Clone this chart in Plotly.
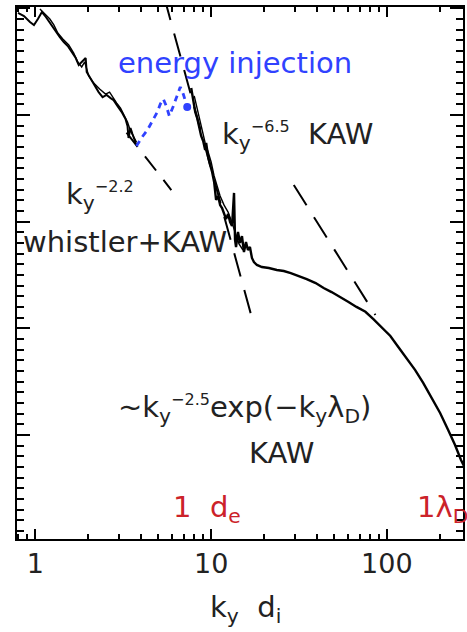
import plotly.graph_objects as go

# ---- data (k_y d_i , spectral energy, arbitrary units) ----
whistler_k = [0.796, 0.861, 0.931, 0.981, 1.033, 1.089, 1.147, 1.208, 1.290, 1.377, 1.450, 1.528,
              1.610, 1.696, 1.764, 1.858, 1.932, 1.958, 2.063, 2.174, 2.290, 2.412, 2.542, 2.679,
              2.785, 2.935, 3.092, 3.257, 3.343, 3.387, 3.476, 3.568, 3.663, 3.759]
whistler_E = [9.04, 8.47, 7.44, 6.98, 7.94, 9.23, 8.29, 7.28, 6.26, 5.38, 4.83, 4.43,
              3.89, 3.42, 2.94, 3.21, 3.42, 2.53, 2.18, 1.87, 1.64, 1.47, 1.54, 1.44,
              1.38, 1.21, 1.07, 0.917, 0.789, 0.609, 0.755, 0.664, 0.583, 0.523]

whistler2_k = [1.061, 1.132, 1.208, 1.273, 1.341, 1.432, 1.548, 1.652, 1.741, 1.834, 1.908, 2.010,
               2.146, 2.320, 2.508, 2.643, 2.749, 2.896, 3.051, 3.215, 3.343, 3.476, 3.615, 3.759]
whistler2_E = [9.85, 8.84, 7.94, 6.98, 5.87, 5.16, 4.53, 3.81, 3.14, 2.82, 3.14, 2.32,
               1.99, 1.75, 1.57, 1.64, 1.47, 1.30, 1.16, 0.979, 0.860, 0.708, 0.622, 0.558]

inject_k = [3.759, 4.012, 4.340, 4.633, 4.945, 5.141, 5.348, 5.562, 5.782, 6.092, 6.418, 6.674,
            6.941, 7.311, 7.603]
inject_E = [0.512, 0.609, 0.723, 0.879, 1.07, 1.27, 1.41, 1.21, 0.979, 1.21, 1.54, 1.83,
            1.57, 1.19, 1.38]
inject_peak_k = [7.31]
inject_peak_E = [1.19]

kaw_k = [7.703, 7.907, 8.119, 8.330, 8.551, 8.777, 9.010, 9.248, 9.370, 9.616, 9.870, 10.13,
         10.40, 10.54, 10.67, 10.96, 11.25, 11.54, 11.85, 12.16, 12.49, 12.82, 13.15, 13.33,
         13.50, 13.68, 13.86, 14.22, 14.60, 14.98, 15.38, 15.79, 16.20, 16.63, 17.07, 17.52,
         18.22, 19.45, 21.31, 23.65, 25.92, 28.40, 31.52, 34.99, 39.35, 43.68, 48.48, 54.52,
         60.52, 67.18, 75.54, 83.85, 93.07, 104.7, 116.2, 129.0, 145.0, 161.0, 178.7, 201.0,
         223.0, 244.4, 264.3, 282.1]
kaw_E = [1.79, 1.38, 1.07, 0.937, 0.755, 0.636, 0.571, 0.470, 0.547, 0.404, 0.340, 0.292,
         0.236, 0.190, 0.160, 0.174, 0.143, 0.134, 0.118, 0.106, 0.118, 0.0994, 0.0911, 0.129,
         0.186, 0.0674, 0.0579, 0.0801, 0.0632, 0.0734, 0.0520, 0.0645, 0.0543, 0.0579, 0.0457, 0.0419,
         0.0393, 0.0376, 0.0368, 0.0353, 0.0345, 0.0330, 0.0310, 0.0290, 0.0266, 0.0239, 0.0219, 0.0197,
         0.0177, 0.0159, 0.0143, 0.0122, 0.0103, 0.00849, 0.00669, 0.00528, 0.00407, 0.00308, 0.00228, 0.00161,
         0.00112, 0.000808, 0.000584, 0.000471]

kaw2_k = [8.013, 8.441, 8.893, 9.248, 9.616, 10.0, 10.40, 10.81, 11.25, 11.85, 12.49, 12.98,
          13.68, 14.41, 15.18]
kaw2_E = [1.51, 1.02, 0.708, 0.547, 0.450, 0.363, 0.268, 0.211, 0.174, 0.143, 0.123, 0.104,
          0.0801, 0.0618, 0.0543]

fit22_k = [3.3, 5.935]
fit22_E = [0.683, 0.198]
fit65_k = [5.4, 17.07]
fit65_E = [12.83, 0.01252]
fit25_k = [29.54, 86.08]
fit25_E = [0.2208, 0.01335]

x_ticks = [1, 10, 100]
x_ticktext = ["1", "10", "100"]
x_minor = [0.8, 0.9, 2, 3, 4, 5, 6, 7, 8, 9, 20, 30, 40, 50, 60, 70, 80, 90, 200]
y_major = [1e-3, 1e-2, 1e-1, 1, 10]
y_minor = [10 ** (n / 10) for n in range(-40, 11) if n % 10 != 0]

FONT = "DejaVu Sans"
INK = "#222222"
RED = "#cc2229"
BLUE = "#3042ff"

fig = go.Figure()
fig.add_trace(go.Scatter(x=fit22_k, y=fit22_E, mode="lines",
                         line=dict(color="black", width=2, dash="18px,12px")))
fig.add_trace(go.Scatter(x=fit65_k, y=fit65_E, mode="lines",
                         line=dict(color="black", width=2, dash="24px,14px")))
fig.add_trace(go.Scatter(x=fit25_k, y=fit25_E, mode="lines",
                         line=dict(color="black", width=2, dash="24px,14px")))
fig.add_trace(go.Scatter(x=whistler2_k, y=whistler2_E, mode="lines",
                         line=dict(color="black", width=1.4)))
fig.add_trace(go.Scatter(x=whistler_k, y=whistler_E, mode="lines",
                         line=dict(color="black", width=2)))
fig.add_trace(go.Scatter(x=kaw2_k, y=kaw2_E, mode="lines",
                         line=dict(color="black", width=1.4)))
fig.add_trace(go.Scatter(x=kaw_k, y=kaw_E, mode="lines",
                         line=dict(color="black", width=2.4)))
fig.add_trace(go.Scatter(x=inject_k, y=inject_E, mode="lines",
                         line=dict(color=BLUE, width=2.8, dash="6px,5px")))
fig.add_trace(go.Scatter(x=inject_peak_k, y=inject_peak_E, mode="markers",
                         marker=dict(color=BLUE, size=8)))

L, R, T, B = 17, 2, 7, 93
W, H = 467, 632
pw, ph = W - L - R, H - T - B


def px(x):
    return (x - L) / pw


def py(y):
    return (H - B - y) / ph


def note(text, x, y, color=INK, size=29, xanchor="left"):
    fig.add_annotation(text=text, x=px(x), y=py(y), xref="paper", yref="paper",
                       xanchor=xanchor, yanchor="middle", showarrow=False,
                       font=dict(family=FONT, size=size, color=color))


def sup(s):
    return '<sup><span style="font-size:16px">' + s + '</span></sup>'


note("energy injection", 116, 63, color=BLUE)
note("k<sub>y</sub>" + sup("−6.5") + "\u00a0\u00a0KAW", 221, 136)
note("k<sub>y</sub>" + sup("−2.2"), 64, 196)
note("whistler+KAW", 21, 242)
note("~k<sub>y</sub>" + sup("−2.5") + "exp(−k<sub>y</sub>λ<sub>D</sub>)", 116, 409)
note("KAW", 283, 453, xanchor="center")
note("1\u00a0\u00a0d<sub>e</sub>", 172, 509, color=RED)
note("1λ<sub>D</sub>", 417, 509, color=RED)
note("k<sub>y</sub>\u00a0\u00a0d<sub>i</sub>", 247, 609, xanchor="center")

axis_common = dict(showline=True, linecolor="black", linewidth=2, mirror="ticks",
                   ticks="inside", tickcolor="black", tickwidth=2, showgrid=False,
                   zeroline=False)

fig.update_layout(
    width=W, height=H, margin=dict(l=L, r=R, t=T, b=B),
    paper_bgcolor="white", plot_bgcolor="white", showlegend=False,
    font=dict(family=FONT, color=INK),
    xaxis=dict(type="log", range=[-0.1048, 2.4334], tickmode="array",
               tickvals=x_ticks, ticktext=x_ticktext, ticklen=10,
               tickfont=dict(family=FONT, size=27, color=INK),
               minor=dict(tickmode="array", tickvals=x_minor, ticklen=5,
                          tickwidth=2, tickcolor="black", ticks="inside"),
               **axis_common),
    yaxis=dict(type="log", range=[-3.9738, 1.0122], tickmode="array",
               tickvals=y_major, ticklen=13, showticklabels=False,
               minor=dict(tickmode="array", tickvals=y_minor, ticklen=7,
                          tickwidth=2, tickcolor="black", ticks="inside"),
               **axis_common),
)

fig.write_html("out.html")
